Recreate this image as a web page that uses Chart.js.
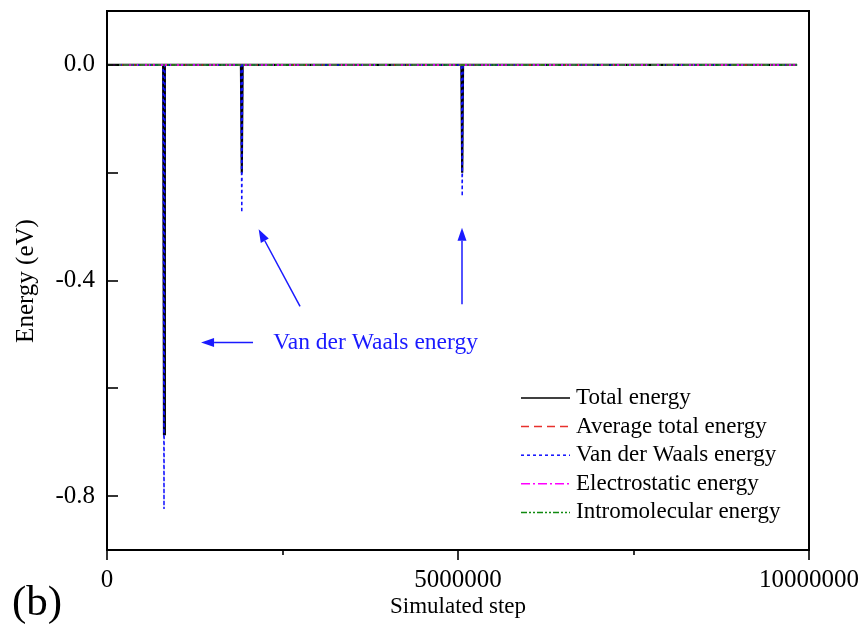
<!DOCTYPE html>
<html>
<head>
<meta charset="utf-8">
<script src="https://cdn.jsdelivr.net/npm/chart.js@4.4.1/dist/chart.umd.min.js"></script>
<style>
  html, body { margin: 0; padding: 0; background: #fff; }
</style>
</head>
<body>
<canvas id="chart" width="859" height="630"></canvas>
<script>
// simulated steps where the energies were sampled
const steps = [0, 800000, 812000, 824000, 1908000, 1920000, 1932000, 5048000, 5060000, 5072000, 9830000];

// energies (eV)
const totalEnergy    = [0, 0, -0.685, 0, 0, -0.200, 0, 0, -0.200, 0, 0];
const averageTotal   = [0, 0, 0, 0, 0, 0, 0, 0, 0, 0, 0];
const vdwEnergy      = [0, 0, -0.824, 0, 0, -0.274, 0, 0, -0.244, 0, 0];
const electrostatic  = [0, 0, 0, 0, 0, 0, 0, 0, 0, 0, 0];
const intramolecular = [0, 0, 0, 0, 0, 0, 0, 0, 0, 0, 0];

const seriesLabels = ['Total energy', 'Average total energy', 'Van der Waals energy', 'Electrostatic energy', 'Intromolecular energy'];

const xTicks = [0, 2500000, 5000000, 7500000, 10000000];
const xTickLabels = ['0', '', '5000000', '', '10000000'];
const yTicks = [-0.8, -0.6, -0.4, -0.2, 0];
const yTickLabels = ['-0.8', '', '-0.4', '', '0.0'];

// arrows pointing at the Van der Waals spikes, in data units [x1, y1, x2, y2]
const arrows = [
  [2080000, -0.515, 1340000, -0.515],
  [2750000, -0.448, 2160000, -0.305],
  [5057000, -0.444, 5057000, -0.302]
];
const noteText = 'Van der Waals energy';
const notePos = [2370000, -0.515];

const SERIF = '"Liberation Serif", "Times New Roman", serif';

const toPoints = vals => steps.map((s, i) => ({ x: s, y: vals[i] }));

const styles = [
  { color: '#000000', dash: [], width: 2.2, order: 5 },
  { color: '#e8302c', dash: [8, 5], width: 1.5, order: 4 },
  { color: '#1010ff', dash: [3, 3], width: 1.5, order: 3 },
  { color: '#ff00ff', dash: [9, 3, 2, 3], width: 1.5, order: 2 },
  { color: '#108a10', dash: [6, 2, 2, 2, 2, 2], width: 1.5, order: 1 }
];
const allSeries = [totalEnergy, averageTotal, vdwEnergy, electrostatic, intramolecular];

const datasets = allSeries.map((vals, i) => ({
  label: seriesLabels[i],
  data: toPoints(vals),
  borderColor: styles[i].color,
  borderDash: styles[i].dash,
  borderWidth: styles[i].width,
  order: styles[i].order,
  pointRadius: 0,
  tension: 0,
  fill: false
}));

function line(ctx, x1, y1, x2, y2) {
  ctx.beginPath();
  ctx.moveTo(x1, y1);
  ctx.lineTo(x2, y2);
  ctx.stroke();
}

const framePlugin = {
  id: 'frame',
  afterDraw(chart) {
    const { ctx, chartArea: a } = chart;
    const x = chart.scales.x, y = chart.scales.y;
    ctx.save();

    // frame
    ctx.strokeStyle = '#000';
    ctx.lineWidth = 2;
    ctx.strokeRect(a.left, a.top, a.right - a.left, a.bottom - a.top);

    // ticks: inward on the left, outward at the bottom
    ctx.lineWidth = 1.6;
    yTicks.forEach(v => {
      const py = Math.round(y.getPixelForValue(v));
      line(ctx, a.left, py, a.left + 11, py);
    });
    xTicks.forEach((v, i) => {
      const px = Math.round(x.getPixelForValue(v));
      line(ctx, px, a.bottom, px, a.bottom + (xTickLabels[i] ? 10 : 5));
    });

    // axis titles
    ctx.fillStyle = '#000';
    ctx.font = '23px ' + SERIF;
    ctx.textAlign = 'center';
    ctx.textBaseline = 'middle';
    ctx.fillText('Simulated step', x.getPixelForValue(5000000), 607);
    ctx.save();
    ctx.translate(26, 281);
    ctx.rotate(-Math.PI / 2);
    ctx.font = '25px ' + SERIF;
    ctx.fillText('Energy (eV)', 0, 0);
    ctx.restore();

    ctx.font = '43px ' + SERIF;
    ctx.textAlign = 'left';
    ctx.fillText('(b)', 12, 604);

    // legend
    ctx.font = '23px ' + SERIF;
    chart.data.datasets.forEach((ds, i) => {
      const ly = 398 + i * 28.6;
      ctx.strokeStyle = ds.borderColor;
      ctx.lineWidth = 1.5;
      ctx.setLineDash(ds.borderDash);
      line(ctx, 521, ly, 570, ly);
      ctx.setLineDash([]);
      ctx.fillStyle = '#000';
      ctx.fillText(ds.label, 576, ly);
    });

    // annotation arrows and note
    ctx.strokeStyle = '#1a1aff';
    ctx.fillStyle = '#1a1aff';
    ctx.lineWidth = 1.5;
    arrows.forEach(([x1, y1, x2, y2]) => {
      const p1 = [x.getPixelForValue(x1), y.getPixelForValue(y1)];
      const p2 = [x.getPixelForValue(x2), y.getPixelForValue(y2)];
      const ang = Math.atan2(p2[1] - p1[1], p2[0] - p1[0]);
      const hl = 13, hw = 4.5;
      const bx = p2[0] - hl * Math.cos(ang), by = p2[1] - hl * Math.sin(ang);
      line(ctx, p1[0], p1[1], bx, by);
      ctx.beginPath();
      ctx.moveTo(p2[0], p2[1]);
      ctx.lineTo(bx + hw * Math.sin(ang), by - hw * Math.cos(ang));
      ctx.lineTo(bx - hw * Math.sin(ang), by + hw * Math.cos(ang));
      ctx.closePath();
      ctx.fill();
    });
    ctx.font = '23.5px ' + SERIF;
    ctx.textAlign = 'left';
    ctx.fillText(noteText, x.getPixelForValue(notePos[0]), y.getPixelForValue(notePos[1]));

    ctx.restore();
  }
};

new Chart(document.getElementById('chart'), {
  type: 'line',
  data: { datasets },
  options: {
    responsive: false,
    animation: false,
    events: [],
    layout: { padding: { left: 0, top: 11, right: 50, bottom: 0 } },
    plugins: { legend: { display: false }, tooltip: { enabled: false } },
    scales: {
      x: {
        type: 'linear',
        min: 0,
        max: 10000000,
        grid: { display: false },
        border: { display: false },
        afterBuildTicks: s => { s.ticks = xTicks.map(v => ({ value: v })); },
        afterFit: s => { s.height = 80; s.paddingLeft = 0; s.paddingRight = 0; },
        ticks: {
          autoSkip: false,
          maxRotation: 0,
          padding: 7,
          color: '#000',
          font: { family: SERIF, size: 25 },
          callback: (v, i) => xTickLabels[i]
        }
      },
      y: {
        type: 'linear',
        min: -0.9,
        max: 0.1,
        grid: { display: false },
        border: { display: false },
        afterBuildTicks: s => { s.ticks = yTicks.map(v => ({ value: v })); },
        afterFit: s => { s.width = 107; s.paddingTop = 0; s.paddingBottom = 0; },
        ticks: {
          autoSkip: false,
          padding: 4,
          color: '#000',
          font: { family: SERIF, size: 25 },
          callback: (v, i) => yTickLabels[i]
        }
      }
    }
  },
  plugins: [framePlugin]
});
</script>
</body>
</html>
